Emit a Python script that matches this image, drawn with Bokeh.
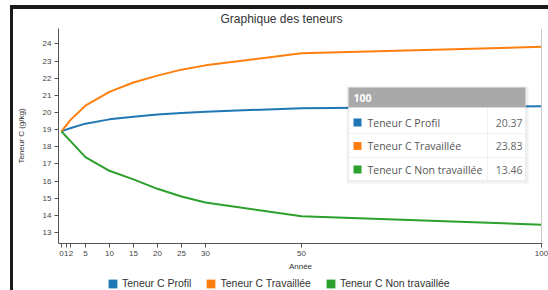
from bokeh.plotting import figure
from bokeh.layouts import column
from bokeh.models import FixedTicker, Legend, LegendItem, Span, BoxAnnotation, Label, Range1d
from bokeh.embed import file_html
from bokeh.resources import INLINE

annees = [0, 1, 2, 5, 10, 15, 20, 25, 30, 50, 100]
teneur_profil = [18.9, 19.0, 19.1, 19.35, 19.6, 19.75, 19.88, 19.97, 20.05, 20.25, 20.37]
teneur_travaillee = [18.9, 19.25, 19.6, 20.4, 21.2, 21.75, 22.15, 22.5, 22.75, 23.45, 23.83]
teneur_non_travaillee = [18.9, 18.6, 18.3, 17.4, 16.6, 16.1, 15.55, 15.1, 14.75, 13.95, 13.46]
y_ticks = list(range(13, 25))
series_names = ["Teneur C Profil", "Teneur C Travaillée", "Teneur C Non travaillée"]
series_values = [teneur_profil, teneur_travaillee, teneur_non_travaillee]
colors = ["#1f77b4", "#ff7f0e", "#2ca02c"]

FONT = "Liberation Sans"
TFONT = "Open Sans"

p = figure(width=548, height=274, x_range=(-0.6, 100.2), y_range=(12.36, 24.9),
           output_backend="svg", toolbar_location=None,
           min_border_left=58, min_border_right=6, min_border_top=28, min_border_bottom=31)
p.border_fill_alpha = 0
p.styles = {"box-shadow": "inset 10px 5px 0 #ffffff, inset 13px 9px 0 #1a1a1a"}

p.title.text = "Graphique des teneurs"
p.title.align = "left"
p.title.offset = 162
p.title.standoff = 5
p.title.text_font = FONT
p.title.text_font_size = "12px"
p.title.text_font_style = "normal"
p.title.text_color = "#333333"

p.outline_line_color = None
p.xgrid.visible = False
p.ygrid.visible = False

for ax in (p.xaxis[0], p.yaxis[0]):
    ax.axis_line_color = "#555555"
    ax.major_tick_line_color = "#555555"
    ax.minor_tick_line_color = None
    ax.major_tick_out = 4
    ax.major_tick_in = 0
    ax.major_label_text_font = FONT
    ax.major_label_text_font_size = "8px"
    ax.major_label_text_color = "#444444"
    ax.major_label_standoff = 3
    ax.axis_label_text_font = FONT
    ax.axis_label_text_font_size = "8px"
    ax.axis_label_text_font_style = "normal"
    ax.axis_label_text_color = "#333333"

p.xaxis.ticker = FixedTicker(ticks=annees)
p.yaxis.ticker = FixedTicker(ticks=y_ticks)
p.xaxis.axis_label = "Année"
p.yaxis.axis_label = "Teneur C (g/kg)"
p.xaxis.axis_label_standoff = 3
p.yaxis.axis_label_standoff = 14

# hover line at last year
p.add_layout(Span(location=annees[-1], dimension="height", line_color="#c8c8c8", line_width=1))

for name, vals, c in zip(series_names, series_values, colors):
    p.line(annees, vals, line_color=c, line_width=2)

# ---- tooltip (screen units, relative to the plot frame) ----
SU = dict(left_units="screen", right_units="screen", top_units="screen", bottom_units="screen")
L, R, T, B = 290, 467, 156, 63
HB = 136
COL = 429
row_edges = [136, 110, 86, 63]
rows_y = [121, 97.5, 74]
p.add_layout(BoxAnnotation(left=L - 2, right=R + 3, top=T + 1, bottom=B - 3, **SU,
                           fill_color="#000000", fill_alpha=0.06, line_color=None, level="overlay"))
p.add_layout(BoxAnnotation(left=L, right=R, top=T, bottom=B, **SU,
                           fill_color="white", fill_alpha=1, line_color="#dddddd", level="overlay"))
p.add_layout(BoxAnnotation(left=L, right=R, top=T, bottom=HB, **SU,
                           fill_color="#a9a9a9", fill_alpha=1, line_color=None, level="overlay"))
for i in range(3):
    for (a, b) in ((L, COL), (COL, R)):
        p.add_layout(BoxAnnotation(left=a, right=b, top=row_edges[i], bottom=row_edges[i + 1], **SU,
                                   fill_alpha=0, line_color="#e4e4e4", line_width=1, level="overlay"))
p.add_layout(Label(x=295, y=146, x_units="screen", y_units="screen", text=str(annees[-1]),
                   text_font=TFONT, text_font_size="10.5px", text_font_style="bold",
                   text_color="white", text_baseline="middle", level="overlay"))
for name, vals, c, yy in zip(series_names, series_values, colors, rows_y):
    p.add_layout(BoxAnnotation(left=295, right=303, top=yy + 4, bottom=yy - 4, **SU,
                               fill_color=c, fill_alpha=1, line_color=None, level="overlay"))
    p.add_layout(Label(x=309, y=yy, x_units="screen", y_units="screen", text=name,
                       text_font=TFONT, text_font_size="10.5px", text_color="#555555",
                       text_baseline="middle", level="overlay"))
    p.add_layout(Label(x=464, y=yy, x_units="screen", y_units="screen", text=f"{vals[-1]:.2f}",
                       text_font=TFONT, text_font_size="10.5px", text_color="#666666",
                       text_baseline="middle", text_align="right", level="overlay"))

# ---- legend in a strip below the chart ----
lg = figure(width=548, height=16, x_range=Range1d(0, 1), y_range=Range1d(0, 1),
            output_backend="svg", toolbar_location=None,
            x_axis_location=None, y_axis_location=None,
            min_border_left=0, min_border_right=0, min_border_top=0, min_border_bottom=0)
lg.border_fill_alpha = 0
lg.outline_line_color = None
lg.xgrid.visible = False
lg.ygrid.visible = False
lg.styles = {"box-shadow": "inset 10px 0 0 #ffffff, inset 13px 0 0 #1a1a1a"}

items = []
for name, vals, c in zip(series_names, series_values, colors):
    r_sq = lg.quad(left=[annees[-1]], right=[annees[-1]], top=[vals[-1]], bottom=[vals[-1]],
                   fill_color=c, line_color=None)
    items.append(LegendItem(label=name, renderers=[r_sq]))

legend = Legend(items=items, orientation="horizontal", location=(49, 1),
                border_line_color=None, background_fill_alpha=0,
                label_text_font=FONT, label_text_font_size="10.5px", label_text_color="#333333",
                glyph_width=11, glyph_height=11, label_height=11, spacing=14, padding=1, margin=0,
                label_standoff=4)
lg.add_layout(legend, "center")

layout = column(p, lg, spacing=0)
open("out.html", "w").write(file_html(layout, INLINE))
